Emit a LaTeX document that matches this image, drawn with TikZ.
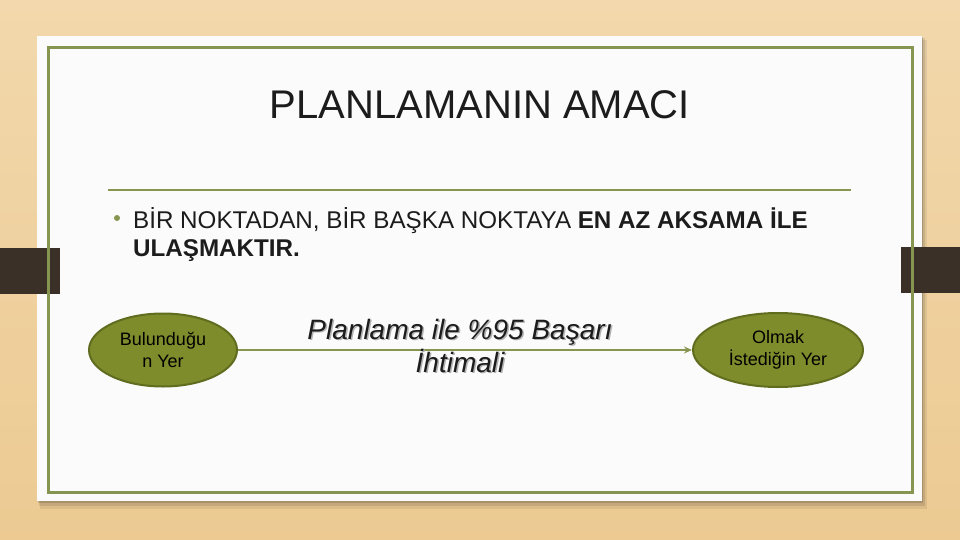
\documentclass[tikz,border=0pt]{standalone}
\usepackage{fontspec}
\setmainfont{Liberation Sans}
\usetikzlibrary{shapes.geometric,arrows.meta}
\definecolor{wood}{RGB}{236,202,146}
\definecolor{woodlight}{RGB}{242,216,172}
\definecolor{tab}{RGB}{58,48,40}
\definecolor{frame}{RGB}{134,150,80}
\definecolor{olivefill}{RGB}{126,140,44}
\definecolor{olivedraw}{RGB}{96,108,30}
\definecolor{ink}{RGB}{28,28,28}
\tikzset{
  place/.style={ellipse, draw=olivedraw, line width=2pt, fill=olivefill, inner sep=0pt, align=center, text=black, font=\fontsize{18}{22}\selectfont},
  flow/.style={draw=frame, line width=2pt, -{Stealth[length=8pt,width=7pt]}},
  itext/.style={font=\fontsize{28}{33}\selectfont\itshape, text=ink, inner sep=0pt, anchor=base},
  ishadow/.style={font=\fontsize{28}{33}\selectfont\itshape, text=black!30, inner sep=0pt, anchor=base}
}
\begin{document}
\begin{tikzpicture}[x=1pt,y=-1pt]
\useasboundingbox (0,0) rectangle (960,540);
% wood background
\shade[top color=woodlight, bottom color=wood] (0,0) rectangle (960,540);
% card shadow
\fill[black,opacity=0.07] (40,40) rectangle (927,509);
\fill[black,opacity=0.10] (39,38) rectangle (925,506);
\fill[black,opacity=0.14] (38,37) rectangle (923,503);
% card
\fill[white!97!gray] (37,36) rectangle (922,501);
% tabs
\fill[tab] (0,248) rectangle (60,294);
\fill[tab] (901,247) rectangle (960,293);
% green frame
\draw[frame, line width=3pt] (48,48) rectangle (912,492);
% title
\node[font=\fontsize{40}{46}\selectfont, text=ink, anchor=base, inner sep=0pt] (title) at (480,119) {PLANLAMANIN AMACI};
\draw[frame, line width=2.2pt] (108,190) -- (851,190);
% bullet
\fill[frame] (117,218) circle (3);
\node[font=\fontsize{24.2}{28}\selectfont, text=ink, anchor=base west, inner sep=0pt] (b1) at (133,228) {BİR NOKTADAN, BİR BAŞKA NOKTAYA \textbf{EN AZ AKSAMA İLE}};
\node[font=\fontsize{24.2}{28}\selectfont\bfseries, text=ink, anchor=base west, inner sep=0pt] (b2) at (133,256) {ULAŞMAKTIR.};
% ellipses
\node[place, minimum width=148pt, minimum height=73pt] (from) at (163,350) {Bulunduğu\\n Yer};
\node[place, minimum width=170pt, minimum height=74pt] (to) at (778,350) {Olmak\\İstediğin Yer};
\draw[flow] (from.east) -- (to.west);
% italic label with shadow
\node[ishadow] (s1) at (461.5,340.5) {Planlama ile \%95 Başarı};
\node[ishadow] (s2) at (461.5,373.5) {İhtimali};
\node[itext] (l1) at (460,339) {Planlama ile \%95 Başarı};
\node[itext] (l2) at (460,372) {İhtimali};
\end{tikzpicture}
\end{document}
